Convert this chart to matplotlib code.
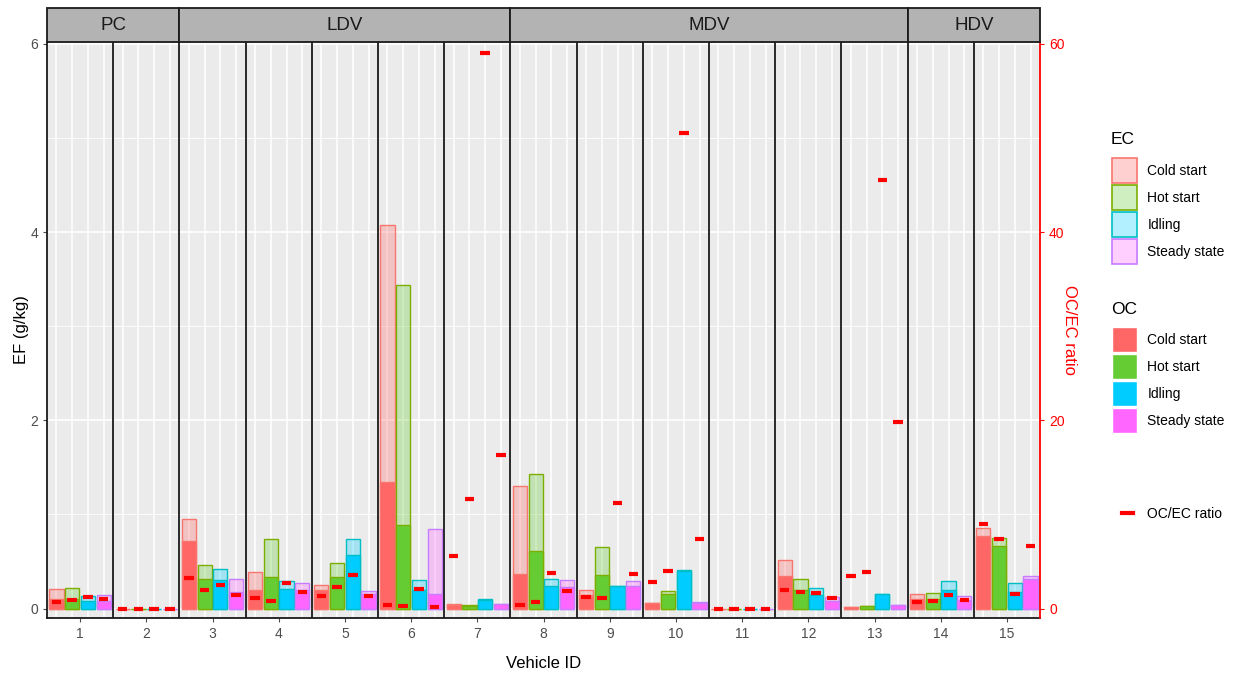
import numpy as np
import matplotlib
matplotlib.use("Agg")
import matplotlib.pyplot as plt
from matplotlib.patches import Patch, Rectangle
from matplotlib.lines import Line2D

plt.rcParams['font.family'] = ['Liberation Sans', 'DejaVu Sans']

# vehicle ids and facet groups
vehicles = [str(i) for i in range(1, 16)]
groups = ["PC", "LDV", "MDV", "HDV"]
group_sizes = [2, 5, 6, 2]

modes = ["Cold start", "Hot start", "Idling", "Steady state"]

# OC emission factors (g/kg)
oc_cold = [0.10, 0.0, 0.72, 0.20, 0.20, 1.35, 0.04, 0.37, 0.14, 0.055, 0.0, 0.35, 0.02, 0.10, 0.77]
oc_hot = [0.10, 0.0, 0.31, 0.34, 0.34, 0.89, 0.03, 0.61, 0.355, 0.16, 0.0, 0.20, 0.03, 0.10, 0.66]
oc_idle = [0.08, 0.0, 0.30, 0.21, 0.57, 0.20, 0.09, 0.245, 0.235, 0.40, 0.0, 0.14, 0.155, 0.20, 0.18]
oc_steady = [0.08, 0.0, 0.18, 0.20, 0.16, 0.15, 0.045, 0.23, 0.24, 0.06, 0.0, 0.08, 0.04, 0.09, 0.31]

# EC emission factors (g/kg), stacked on top of OC
ec_cold = [0.11, 0.0, 0.23, 0.19, 0.05, 2.73, 0.005, 0.93, 0.06, 0.0, 0.0, 0.165, 0.0, 0.055, 0.09]
ec_hot = [0.12, 0.0, 0.155, 0.395, 0.14, 2.55, 0.005, 0.82, 0.30, 0.03, 0.0, 0.11, 0.0, 0.07, 0.095]
ec_idle = [0.05, 0.0, 0.12, 0.08, 0.165, 0.10, 0.01, 0.065, 0.005, 0.005, 0.0, 0.08, 0.002, 0.09, 0.09]
ec_steady = [0.06, 0.0, 0.13, 0.07, 0.025, 0.70, 0.005, 0.07, 0.055, 0.01, 0.0, 0.04, 0.0, 0.04, 0.04]

# OC/EC ratio
ratio_cold = [0.66, 0, 3.2, 1.08, 1.3, 0.4, 5.57, 0.33, 1.2, 2.8, 0, 2.0, 3.45, 0.7, 8.97]
ratio_hot = [0.87, 0, 1.96, 0.83, 2.25, 0.3, 11.6, 0.7, 1.1, 4.0, 0, 1.75, 3.9, 0.83, 7.38]
ratio_idle = [1.25, 0, 2.5, 2.7, 3.6, 2.1, 59.0, 3.74, 11.2, 50.5, 0, 1.68, 45.5, 1.46, 1.57]
ratio_steady = [1.0, 0, 1.43, 1.8, 1.3, 0.16, 16.3, 1.9, 3.66, 7.4, 0, 1.08, 19.8, 0.94, 6.6]

oc_all = [oc_cold, oc_hot, oc_idle, oc_steady]
ec_all = [ec_cold, ec_hot, ec_idle, ec_steady]
ratio_all = [ratio_cold, ratio_hot, ratio_idle, ratio_steady]

solid = ["#FF6666", "#66CC33", "#00CCFF", "#FF66FF"]
edges = ["#F8766D", "#7CAE00", "#00BFC4", "#C77CFF"]

W, H = 1237, 673
fig = plt.figure(figsize=(W / 100, H / 100), dpi=100)
fig.patch.set_facecolor("white")

px = lambda x0, y0, x1, y1: [x0 / W, 1 - y1 / H, (x1 - x0) / W, (y1 - y0) / H]
ax = fig.add_axes(px(47, 42, 1040, 618))
ax.set_facecolor("#EBEBEB")

n = len(vehicles)
col_w = 4.2
col_start = np.arange(n) * col_w
ax.set_xlim(0, n * col_w)
ax.set_ylim(-0.1, 6.02)

# grid
for y in [1, 3, 5]:
    ax.axhline(y, color="white", lw=0.6, zorder=0)
for y in [0, 2, 4, 6]:
    ax.axhline(y, color="white", lw=1.2, zorder=0)
for k in range(4):
    for xc in col_start + 0.6 + k:
        ax.axvline(xc, color="white", lw=1.1, zorder=0)

for k in range(4):
    x = col_start + 0.6 + k
    oc = np.array(oc_all[k])
    ec = np.array(ec_all[k])
    ax.bar(x, oc + ec, width=0.9, color=solid[k], alpha=0.3, zorder=2, lw=0)
    ax.bar(x, oc + ec, width=0.9, facecolor="none", edgecolor=edges[k], lw=1.0, zorder=3)
    ax.bar(x, oc, width=0.9, color=solid[k], edgecolor=edges[k], lw=1.0, zorder=3)

# facet separators
for xb in col_start[1:]:
    ax.axvline(xb, color="#1A1A1A", lw=1.3, zorder=4)

ax.set_xticks(col_start + col_w / 2)
ax.set_xticklabels(vehicles)
ax.set_yticks([0, 2, 4, 6])
ax.tick_params(axis="both", colors="#4D4D4D", labelsize=10, length=3, width=0.8)
for s in ["top", "right"]:
    ax.spines[s].set_visible(False)
for s in ["left", "bottom"]:
    ax.spines[s].set_color("#1A1A1A")
    ax.spines[s].set_linewidth(1.3)
ax.set_xlabel("Vehicle ID", fontsize=12, labelpad=11)
ax.set_ylabel("EF (g/kg)", fontsize=12, labelpad=1)

# secondary axis for OC/EC ratio
ax2 = ax.twinx()
ax2.set_ylim(-1.0, 60.2)
ax2.set_yticks([0, 20, 40, 60])
for k in range(4):
    x = col_start + 0.6 + k
    ax2.hlines(ratio_all[k], x - 0.3, x + 0.3, color="#FF0000", lw=3, zorder=5)
for s in ["top", "left", "bottom"]:
    ax2.spines[s].set_visible(False)
ax2.spines["right"].set_color("#FF0000")
ax2.spines["right"].set_linewidth(1.3)
ax2.tick_params(axis="y", colors="#FF0000", labelsize=10, length=3, width=0.8)
ax2.set_ylabel("OC/EC ratio", color="#FF0000", fontsize=12, rotation=270, labelpad=9)

# facet strips
sax = fig.add_axes(px(47, 8, 1040, 42))
sax.set_xlim(ax.get_xlim())
sax.set_ylim(0, 1)
sax.axis("off")
start = 0
for name, size in zip(groups, group_sizes):
    x0 = start * col_w
    sax.add_patch(Rectangle((x0, 0), size * col_w, 1, facecolor="#B3B3B3",
                            edgecolor="#1A1A1A", lw=1.3, clip_on=False))
    sax.text(x0 + size * col_w / 2, 0.5, name, ha="center", va="center",
             fontsize=13.5, color="#1A1A1A")
    start += size

# legends
ec_handles = [Patch(facecolor=matplotlib.colors.to_rgba(solid[k], 0.3), edgecolor=edges[k], lw=1.2)
              for k in range(4)]
oc_handles = [Patch(facecolor=solid[k], edgecolor="white", lw=1.0) for k in range(4)]

common = dict(frameon=False, fontsize=10, handlelength=1.8, handleheight=2.39,
              labelspacing=0.15, handletextpad=0.75, loc="upper left",
              borderaxespad=0, borderpad=0)
fig.text(1111 / W, 1 - 140 / H, "EC", fontsize=12.5, va="center", ha="left")
leg1 = fig.legend(ec_handles, modes, bbox_to_anchor=(1112 / W, 1 - 158 / H), **common)
fig.text(1111 / W, 1 - 310 / H, "OC", fontsize=12.5, va="center", ha="left")
leg2 = fig.legend(oc_handles, modes, bbox_to_anchor=(1112 / W, 1 - 327 / H), **common)
leg3 = fig.legend([Line2D([], [], color="#FF0000", lw=3)], ["OC/EC ratio"],
                  frameon=False, fontsize=10, handlelength=0.8, handletextpad=1.0,
                  loc="center left", bbox_to_anchor=(1122 / W, 1 - 514 / H), borderaxespad=0, borderpad=0)

fig.savefig("out.png", dpi=100)
